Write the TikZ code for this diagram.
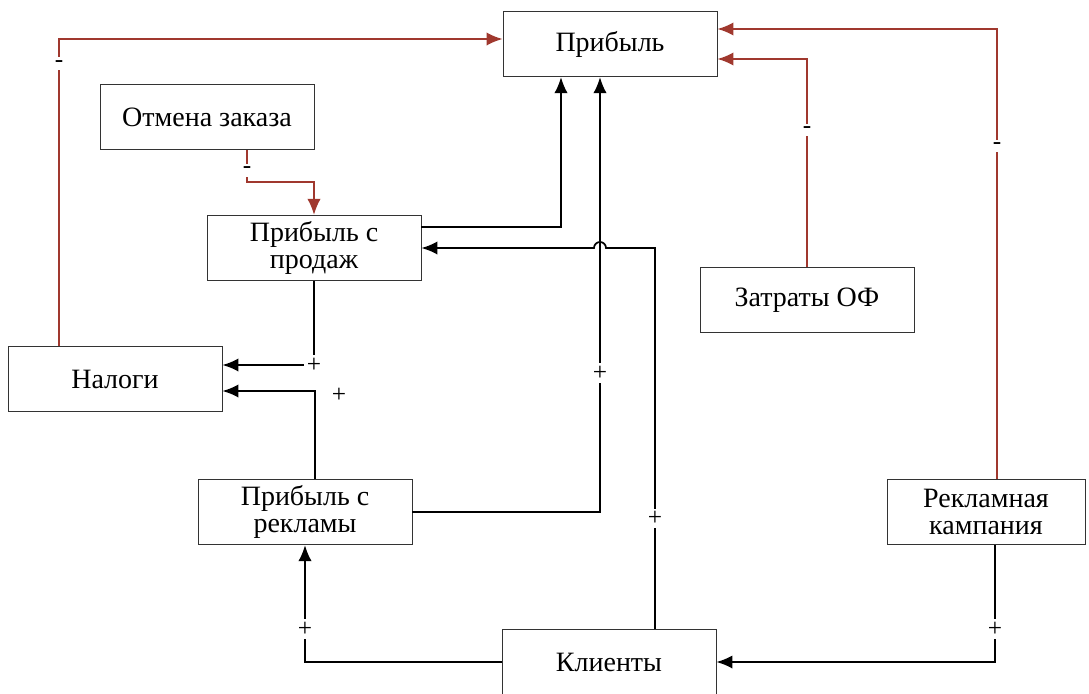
\documentclass[tikz,border=0pt]{standalone}
\usepackage{fontspec}
\setmainfont{Liberation Serif}
\usetikzlibrary{arrows.meta}
\definecolor{minusred}{RGB}{160,56,46}
\tikzset{
  box/.style={draw=black!80, line width=0.7pt, minimum width=160.5pt, minimum height=49pt,
    align=center, inner sep=2pt, font=\fontsize{21}{20}\selectfont},
  plink/.style={draw=black, line width=1.3pt, -{Latex[length=12pt,width=10pt]}},
  mlink/.style={draw=minusred, line width=1.3pt, -{Latex[length=12pt,width=10pt]}},
  sign/.style={fill=white, text=black, inner sep=2pt, font=\fontsize{19}{19}\selectfont}
}
\begin{document}
\begin{tikzpicture}[x=0.75pt, y=-0.75pt]
    \useasboundingbox (0,0) rectangle (1089,693);
    % Блоки
    \node[box] (pribyl) at (610,44) {Прибыль};
    \node[box] (otmena) at (207,117) {Отмена заказа};
    \node[box] (prodazh) at (314,248) {Прибыль с\\продаж};
    \node[box] (nalogi) at (115,379) {Налоги};
    \node[box] (reklama) at (305,512) {Прибыль с\\рекламы};
    \node[box] (klienty) at (609,662) {Клиенты};
    \node[box] (zatraty) at (807,300) {Затраты ОФ};
    \node[box, minimum width=148.5pt] (kampania) at (986,512) {Рекламная\\кампания};
    % Отрицательные связи
    \draw[mlink] (59,0 |- nalogi.north) -- node[sign, pos=0.92] {-} (59,39) -- (pribyl.west |- 0,39);
    \draw[mlink] (247,0 |- otmena.south) -- node[sign, pos=0.64] {-} (247,182) -| (prodazh.north);
    \draw[mlink] (zatraty.north) |- node[sign, pos=0.33] {-} (pribyl.east |- 0,59);
    \draw[mlink] (997,0 |- kampania.north) |- node[sign, pos=0.37] {-} (pribyl.east |- 0,29);
    % Положительные связи
    \draw[plink] (prodazh.east |- 0,227) -| (561,0 |- pribyl.south);
    \draw[plink] (reklama.east) -| node[sign, pos=0.66] {+} (600,0 |- pribyl.south);
    \draw[plink] (655,0 |- klienty.north) -- node[sign, pos=0.29] {+} (655,248) -- (606,248)
      arc[start angle=0, end angle=180, radius=4.5pt] -- (prodazh.east);
    \draw[plink] (prodazh.south) |- node[sign, pos=0.5] {+} (nalogi.east |- 0,365);
    \draw[plink] (315,0 |- reklama.north) |- node[pos=0.5, xshift=18pt, yshift=-3pt, font=\fontsize{19}{19}\selectfont] {+} (nalogi.east |- 0,391);
    \draw[plink] (klienty.west) -| node[sign, pos=0.64] {+} (reklama.south);
    \draw[plink] (995,0 |- kampania.south) |- node[sign, pos=0.36] {+} (klienty.east);
\end{tikzpicture}
\end{document}
